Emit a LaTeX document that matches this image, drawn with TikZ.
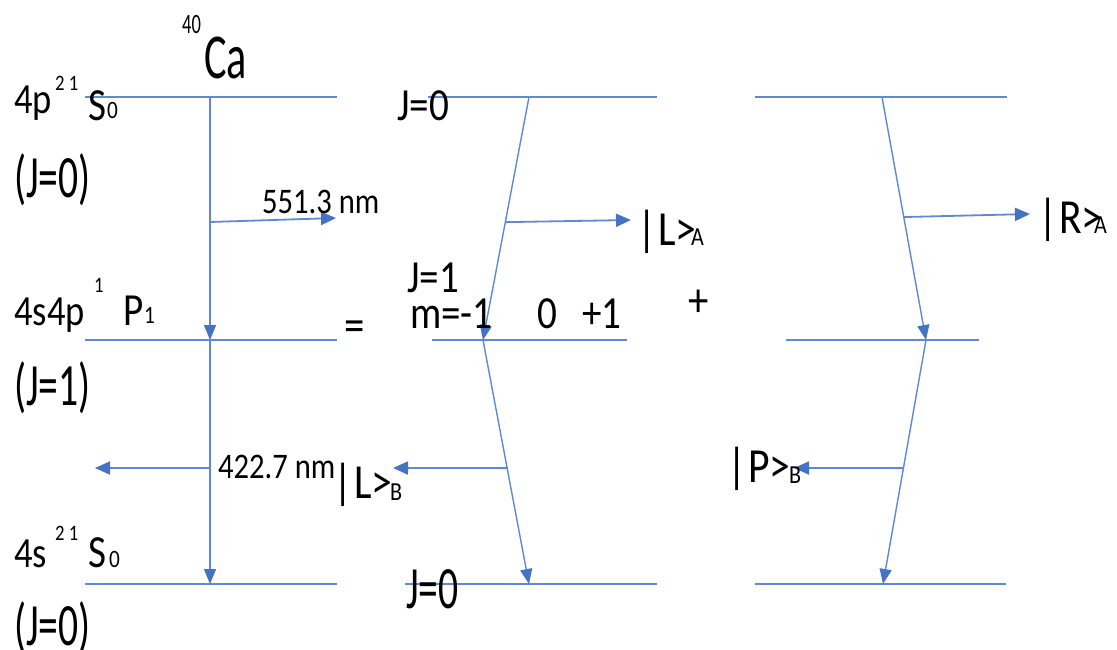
\documentclass[tikz,border=0pt]{standalone}
\usepackage{fontspec}
\setmainfont{Carlito}[FakeStretch=0.85]
\newfontfamily\tallf{Carlito}[FakeStretch=0.66]
\usetikzlibrary{arrows.meta,calc}
\definecolor{lvl}{RGB}{96,136,212}
\definecolor{arr}{RGB}{68,114,196}
\begin{document}
\begin{tikzpicture}[x=1pt,y=-1pt,
  level/.style={draw=lvl, line width=2.2pt},
  trans/.style={draw=lvl, line width=1.4pt, -{Triangle[length=15pt,width=12pt,fill=arr,color=arr]}},
  emit/.style={draw=lvl, line width=1.8pt, -{Triangle[length=15pt,width=13pt,fill=arr,color=arr]}},
  lbl/.style={inner sep=0pt, anchor=base west, text=black},
  fJ/.style={lbl, font=\tallf\fontsize{60}{60}\selectfont},
  fconf/.style={lbl, font=\fontsize{43}{43}\selectfont},
  fterm/.style={lbl, font=\fontsize{46}{46}\selectfont},
  fsup/.style={lbl, font=\fontsize{22}{22}\selectfont},
  fsub/.style={lbl, font=\fontsize{25}{25}\selectfont},
  fnm/.style={lbl, font=\fontsize{36}{36}\selectfont},
  fjm/.style={lbl, font=\fontsize{46}{46}\selectfont},
  fket/.style={lbl, font=\fontsize{49}{49}\selectfont},
  fketsub/.style={lbl, font=\fontsize{26}{26}\selectfont},
  fop/.style={inner sep=0pt, anchor=center, text=black, font=\fontsize{48}{48}\selectfont}
]
\useasboundingbox (0,0) rectangle (1117,649);

% ---------- column 1 levels ----------
\coordinate (a1) at (85,97);  \coordinate (a2) at (337,97);
\coordinate (b1) at (85,340); \coordinate (b2) at (337,340);
\coordinate (c1) at (85,584); \coordinate (c2) at (337,584);
\draw[level] (a1) -- (a2);
\draw[level] (b1) -- (b2);
\draw[level] (c1) -- (c2);
\coordinate (T1) at (210,97); \coordinate (M1) at (210,340); \coordinate (B1) at (210,584);
\draw[trans] (T1) -- (M1);
\draw[trans] (M1) -- (B1);
\coordinate (e1s) at (210,222); \coordinate (e1t) at (336,218);
\draw[emit] (e1s) -- (e1t);
\coordinate (f1s) at (210,468); \coordinate (f1t) at (95,468);
\draw[emit] (f1s) -- (f1t);

% ---------- column 2 levels ----------
\coordinate (a3) at (428,97);  \coordinate (a4) at (657,97);
\coordinate (b3) at (432,340); \coordinate (b4) at (627,340);
\coordinate (c3) at (405,584); \coordinate (c4) at (657,584);
\draw[level] (a3) -- (a4);
\draw[level] (b3) -- (b4);
\draw[level] (c3) -- (c4);
\coordinate (T2) at (529,97); \coordinate (M2) at (483,340); \coordinate (B2) at (529,584);
\draw[trans] (T2) -- (M2);
\draw[trans] (M2) -- (B2);
\coordinate (e2s) at ($(T2)!0.515!(M2)$); \coordinate (e2t) at (631,220);
\draw[emit] (e2s) -- (e2t);
\coordinate (f2s) at ($(M2)!0.525!(B2)$); \coordinate (f2t) at (393,468);
\draw[emit] (f2s) -- (f2t);

% ---------- column 3 levels ----------
\coordinate (a5) at (755,97);  \coordinate (a6) at (1007,97);
\coordinate (b5) at (786,340); \coordinate (b6) at (979,340);
\coordinate (c5) at (755,584); \coordinate (c6) at (1006,584);
\draw[level] (a5) -- (a6);
\draw[level] (b5) -- (b6);
\draw[level] (c5) -- (c6);
\coordinate (T3) at (882,97); \coordinate (M3) at (926,340); \coordinate (B3) at (883,584);
\draw[trans] (T3) -- (M3);
\draw[trans] (M3) -- (B3);
\coordinate (e3s) at ($(T3)!0.494!(M3)$); \coordinate (e3t) at (1030,214);
\draw[emit] (e3s) -- (e3t);
\coordinate (f3s) at ($(M3)!0.525!(B3)$); \coordinate (f3t) at (794,468);
\draw[emit] (f3s) -- (f3t);

% ---------- labels column 1 ----------
\node[lbl, font=\tallf\fontsize{28}{28}\selectfont] (n40) at (182,33) {40};
\node[lbl, font=\tallf\fontsize{64}{64}\selectfont] (nCa) at (204,78) {Ca};

\node[fconf] (c4p) at (14,113) {4p};
\node[fsup] (c4psup) at (55,90) {2 1};
\node[fterm] (c4pS) at (88,120) {S};
\node[fsub] (c4pSsub) at (107,118) {0};
\node[fJ] (j1) at (14,197) {(J=0)};

\node[fconf] (c4s4p) at (14,325) {4s4p};
\node[fsup] (c4s4psup) at (94,292) {1};
\node[fterm] (c4s4pP) at (123,325) {P};
\node[fsub] (c4s4pPsub) at (144,323) {1};
\node[fJ] (j2) at (14,405) {(J=1)};

\node[fconf] (c4s) at (14,567) {4s};
\node[fsup] (c4ssup) at (55,540) {2 1};
\node[fterm] (c4sS) at (88,567) {S};
\node[fsub] (c4sSsub) at (109,567) {0};
\node[fJ] (j3) at (14,645) {(J=0)};

\node[fnm] (w1) at (262,213) {551.3 nm};
\node[fnm] (w2) at (218,478) {422.7 nm};
\node[fket] (kLB) at (333,498) {|\kern2pt L>};
\node[fketsub] (kLBs) at (390,500) {B};

% ---------- operators ----------
\node[fop] (eq) at (355,331) {=};
\node[fop] (plus) at (699,303) {+};

% ---------- labels column 2 ----------
\node[fjm] (j4) at (397,120) {J=0};
\node[fjm] (j5) at (407,292) {J=1};
\node[fjm] (m1) at (410,328) {m=-1};
\node[fjm] (m2) at (537,328) {0};
\node[fjm] (m3) at (582,328) {+1};
\node[fJ] (j6) at (406,608) {J=0};
\node[fket] (kLA) at (637,245) {|\kern2pt L>};
\node[fketsub] (kLAs) at (691,245) {A};

% ---------- labels column 3 ----------
\node[fket] (kRA) at (1038,233) {|\kern2pt R>};
\node[fketsub] (kRAs) at (1094,233) {A};
\node[fket] (kPB) at (727,482) {|\kern2pt P>};
\node[fketsub] (kPBs) at (789,483) {B};
\end{tikzpicture}
\end{document}
